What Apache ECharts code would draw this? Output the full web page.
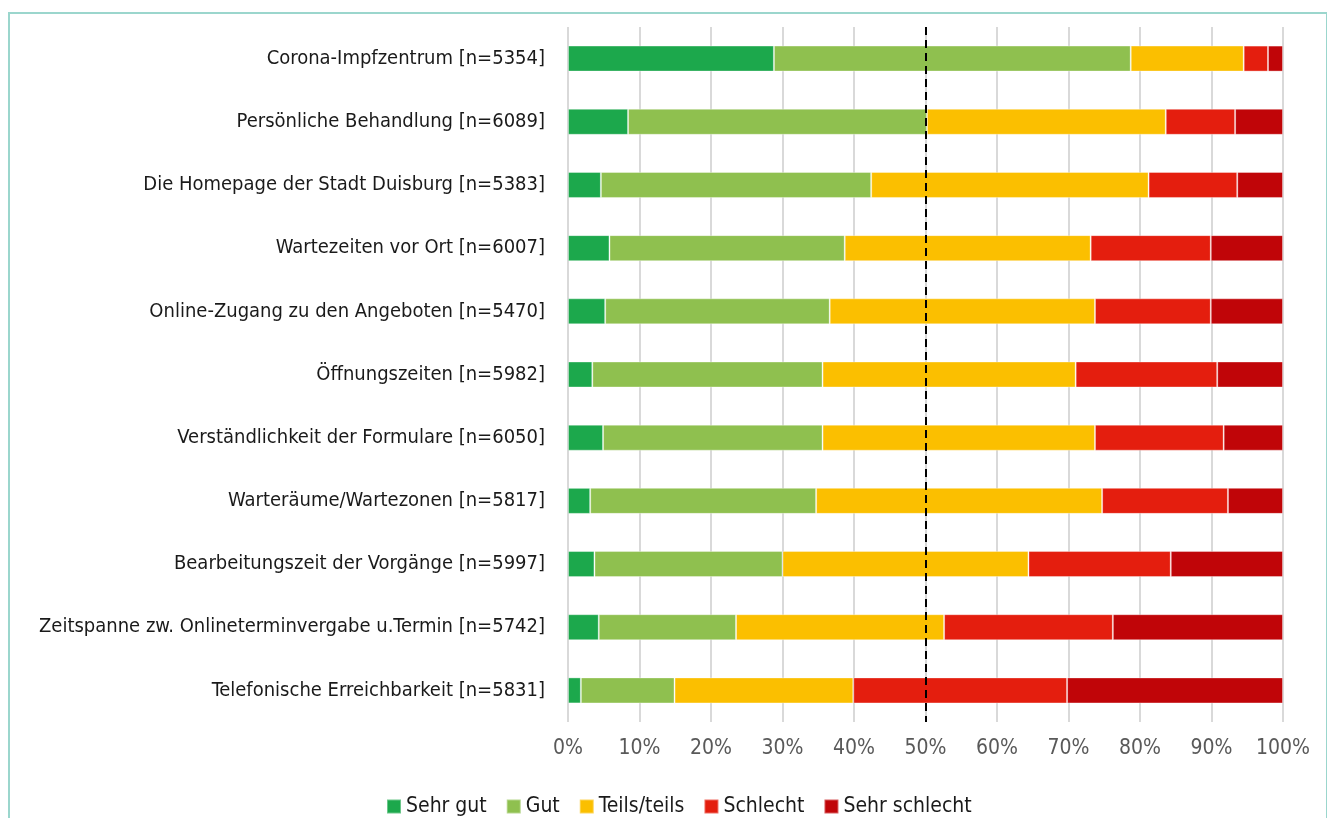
<!DOCTYPE html>
<html>
<head>
<meta charset="utf-8" />
<title>Zufriedenheit</title>
<script src="https://cdn.jsdelivr.net/npm/echarts@6/dist/echarts.min.js"></script>
<style>
  html, body { margin: 0; padding: 0; background: #fff; overflow: hidden; }
  #frame { position: absolute; left: 8px; top: 12px; width: 1316px; height: 900px; border: 2px solid #9bd6cd; }
  #main { position: absolute; left: 0; top: 0; width: 1327px; height: 818px; }
</style>
</head>
<body>
<div id="frame"></div>
<div id="main"></div>

<script type="text/javascript">
// Kategorien (von oben nach unten)
var categories = [
    'Corona-Impfzentrum [n=5354]',
    'Persönliche Behandlung [n=6089]',
    'Die Homepage der Stadt Duisburg [n=5383]',
    'Wartezeiten vor Ort [n=6007]',
    'Online-Zugang zu den Angeboten [n=5470]',
    'Öffnungszeiten [n=5982]',
    'Verständlichkeit der Formulare [n=6050]',
    'Warteräume/Wartezonen [n=5817]',
    'Bearbeitungszeit der Vorgänge [n=5997]',
    'Zeitspanne zw. Onlineterminvergabe u.Termin [n=5742]',
    'Telefonische Erreichbarkeit [n=5831]'
];

// Anteile in Prozent
var sehrGut      = [28.8,  8.4,  4.6,  5.8,  5.2,  3.4,  4.9,  3.1,  3.7,  4.3,  1.8];
var gut          = [49.9, 41.8, 37.8, 32.9, 31.4, 32.2, 30.7, 31.6, 26.3, 19.2, 13.1];
var teilsTeils   = [15.8, 33.4, 38.8, 34.4, 37.1, 35.4, 38.1, 40.0, 34.4, 29.1, 25.0];
var schlecht     = [ 3.4,  9.7, 12.4, 16.8, 16.2, 19.8, 18.0, 17.6, 19.9, 23.6, 29.9];
var sehrSchlecht = [ 2.1,  6.7,  6.4, 10.1, 10.1,  9.2,  8.3,  7.7, 15.7, 23.8, 30.2];

var seriesNames = ['Sehr gut', 'Gut', 'Teils/teils', 'Schlecht', 'Sehr schlecht'];
var seriesData  = [sehrGut, gut, teilsTeils, schlecht, sehrSchlecht];
var colors      = ['#1ca84c', '#8fc04f', '#fbbf00', '#e41e0e', '#c00508'];
var referenceLine = 50;

var FONT = "'DejaVu Sans Condensed', 'Noto Sans', sans-serif";

var myChart = echarts.init(document.getElementById('main'));

var series = [];
for (var i = 0; i < seriesNames.length; i++) {
    var s = {
        name: seriesNames[i],
        type: 'bar',
        stack: 'total',
        barWidth: 26,
        data: seriesData[i],
        itemStyle: {
            color: colors[i],
            borderColor: 'rgba(255,255,255,0.35)',
            borderWidth: 1
        },
        emphasis: { disabled: true }
    };
    if (i === 0) {
        s.markLine = {
            silent: true,
            symbol: 'none',
            label: { show: false },
            lineStyle: { color: '#000', type: [8, 5], width: 2 },
            data: [{ xAxis: referenceLine }],
            z: 10
        };
    }
    series.push(s);
}

option = {
    backgroundColor: 'transparent',
    animation: false,
    textStyle: { fontFamily: FONT },
    grid: {
        left: 568,
        right: 44,
        top: 27,
        bottom: 96
    },
    legend: {
        data: seriesNames,
        left: 381,
        top: 791,
        icon: 'rect',
        itemWidth: 14,
        itemHeight: 14,
        itemGap: 19,
        textStyle: { fontFamily: FONT, fontSize: 21, color: '#1a1a1a' }
    },
    xAxis: {
        type: 'value',
        min: 0,
        max: 100,
        interval: 10,
        axisLine: { show: false },
        axisTick: { show: false },
        axisLabel: {
            formatter: '{value}%',
            fontFamily: FONT,
            fontSize: 21,
            color: '#595959',
            margin: 16
        },
        splitLine: { show: true, lineStyle: { color: '#d9d9d9', width: 2 } }
    },
    yAxis: {
        type: 'category',
        inverse: true,
        data: categories,
        axisLine: { show: false },
        axisTick: { show: false },
        axisLabel: {
            fontFamily: FONT,
            fontSize: 20,
            color: '#1a1a1a',
            margin: 23
        }
    },
    series: series
};
myChart.setOption(option);
</script>
</body>
</html>
